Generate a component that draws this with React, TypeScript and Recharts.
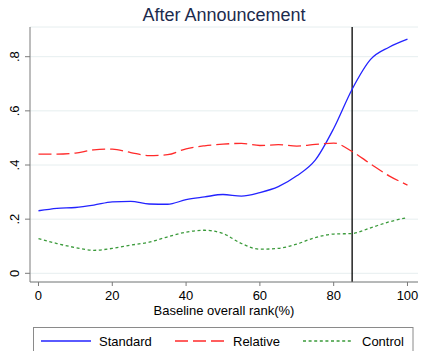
import React from "react";
import {
  LineChart,
  Line,
  XAxis,
  YAxis,
  CartesianGrid,
  ReferenceLine,
  Legend,
} from "recharts";

// Baseline overall rank (%) at which each series is sampled
const rank = [0, 5, 10, 15, 20, 25, 30, 35, 40, 45, 50, 55, 60, 65, 70, 75, 80, 85, 90, 95, 100];

const standard = [
  0.231, 0.24, 0.243, 0.252, 0.264, 0.266, 0.256, 0.255, 0.272, 0.282, 0.291,
  0.285, 0.298, 0.32, 0.36, 0.418, 0.535, 0.68, 0.79, 0.835, 0.865,
];
const relative = [
  0.44, 0.44, 0.444, 0.456, 0.459, 0.446, 0.435, 0.438, 0.46, 0.471, 0.477,
  0.48, 0.472, 0.475, 0.47, 0.476, 0.481, 0.45, 0.404, 0.36, 0.326,
];
const control = [
  0.128, 0.11, 0.095, 0.085, 0.092, 0.104, 0.115, 0.135, 0.152, 0.159, 0.147,
  0.11, 0.089, 0.092, 0.108, 0.132, 0.145, 0.147, 0.168, 0.19, 0.206,
];

const xTicks = [0, 20, 40, 60, 80, 100];
const yTicks = [0, 0.2, 0.4, 0.6, 0.8];
const cutoff = 85;

const title = "After Announcement";
const xLabel = "Baseline overall rank(%)";
const seriesOrder = ["standard", "relative", "control"];

const data = rank.map((r, i) => ({
  rank: r,
  standard: standard[i],
  relative: relative[i],
  control: control[i],
}));

const FONT = '"Liberation Sans", Arial, Helvetica, sans-serif';

const seriesStyle: Record<string, { color: string; dash?: string }> = {
  standard: { color: "#2323ff" },
  relative: { color: "#ff2a2a", dash: "13 5" },
  control: { color: "#3a9a3a", dash: "3 2.6" },
};

const fmtY = (v: number) => (v === 0 ? "0" : v.toFixed(1).replace(/^0/, ""));

const YTick = (props: any) => {
  const { x, y, payload } = props;
  return (
    <text
      x={x}
      y={y}
      transform={`rotate(-90, ${x}, ${y})`}
      textAnchor="middle"
      fontSize={13}
      fontFamily={FONT}
      fill="#000"
    >
      {fmtY(payload.value)}
    </text>
  );
};

const legendSampleX = [41, 175, 303];
const legendTextX = [99, 233, 362];

const LegendBox = (props: any) => {
  const payload: any[] = [...(props.payload || [])].sort(
    (a, b) => seriesOrder.indexOf(a.dataKey) - seriesOrder.indexOf(b.dataKey)
  );
  return (
    <svg width={421} height={351} style={{ display: "block" }}>
      <rect x={33.5} y={327.5} width={379.5} height={40} fill="#fff" stroke="#8a8a8a" />
      {payload.map((entry: any, i: number) => {
        const st = seriesStyle[entry.dataKey] || { color: entry.color };
        return (
          <g key={entry.value}>
            <line
              x1={legendSampleX[i]}
              x2={legendSampleX[i] + 50}
              y1={341}
              y2={341}
              stroke={st.color}
              strokeWidth={1.3}
              strokeDasharray={st.dash}
            />
            <text
              x={legendTextX[i]}
              y={345.5}
              fontSize={13}
              fontFamily={FONT}
              fill="#000"
            >
              {entry.value}
            </text>
          </g>
        );
      })}
    </svg>
  );
};

export default function App() {
  return (
    <div
      style={{
        position: "absolute",
        left: 0,
        top: 0,
        width: 421,
        height: 351,
        background: "#fff",
        overflow: "hidden",
        fontFamily: FONT,
      }}
    >
      <svg
        width={421}
        height={30}
        style={{ position: "absolute", left: 0, top: 0 }}
      >
        <text
          x={224}
          y={20.5}
          textAnchor="middle"
          fontSize={18}
          fontFamily={FONT}
          fill="#1c2b4d"
        >
          {title}
        </text>
      </svg>
      <LineChart
        width={421}
        height={351}
        data={data}
        margin={{ top: 27, right: 3, bottom: 29, left: 0 }}
        style={{ fontFamily: FONT }}
      >
        <CartesianGrid
          horizontal
          vertical={false}
          stroke="#e6eeef"
          strokeWidth={1}
        />
        <XAxis
          dataKey="rank"
          type="number"
          domain={[-2.3, 102.85]}
          ticks={xTicks}
          allowDataOverflow
          height={40}
          stroke="#7a7a7a"
          tickSize={4}
          tickMargin={5}
          tick={{ fill: "#000", fontSize: 13, fontFamily: FONT }}
          label={{
            value: xLabel,
            position: "insideBottom",
            offset: 7,
            fill: "#000",
            fontSize: 13,
            fontFamily: FONT,
          }}
        />
        <YAxis
          type="number"
          domain={[-0.0321, 0.9097]}
          ticks={yTicks}
          allowDataOverflow
          width={30}
          stroke="#7a7a7a"
          tickSize={5}
          tickMargin={5.5}
          tick={<YTick />}
        />
        <ReferenceLine x={cutoff} stroke="#000" strokeWidth={1.3} />
        <Line
          type="monotone"
          dataKey="standard"
          name="Standard"
          stroke={seriesStyle.standard.color}
          strokeWidth={1.3}
          dot={false}
          isAnimationActive={false}
        />
        <Line
          type="monotone"
          dataKey="relative"
          name="Relative"
          stroke={seriesStyle.relative.color}
          strokeWidth={1.3}
          strokeDasharray={seriesStyle.relative.dash}
          dot={false}
          isAnimationActive={false}
        />
        <Line
          type="monotone"
          dataKey="control"
          name="Control"
          stroke={seriesStyle.control.color}
          strokeWidth={1.3}
          strokeDasharray={seriesStyle.control.dash}
          dot={false}
          isAnimationActive={false}
        />
        <Legend
          layout="horizontal"
          verticalAlign="middle"
          align="center"
          wrapperStyle={{ left: 0, top: 0, width: 421, height: 351, pointerEvents: "none" }}
          content={<LegendBox />}
        />
      </LineChart>
    </div>
  );
}
